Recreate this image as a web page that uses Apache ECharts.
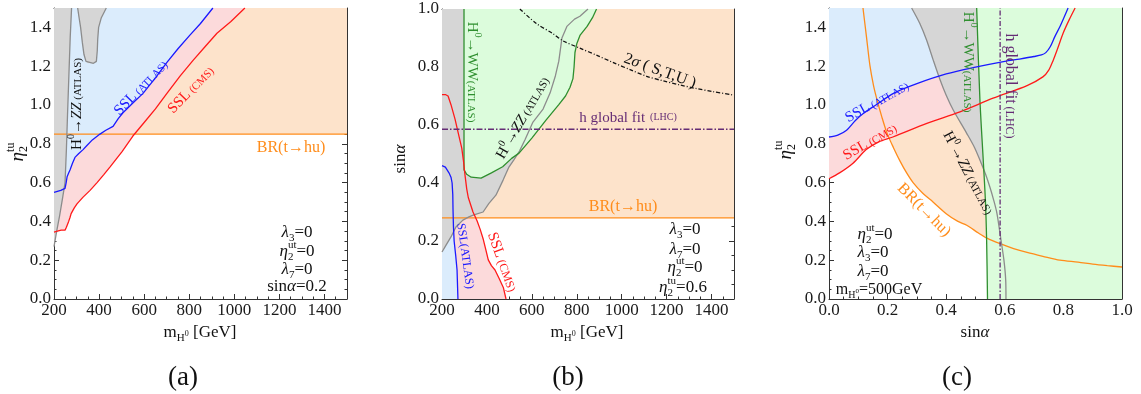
<!DOCTYPE html>
<html>
<head>
<meta charset="utf-8">
<script src="https://cdn.jsdelivr.net/npm/echarts@6/dist/echarts.min.js"></script>
<style>
  html, body { margin: 0; padding: 0; background: #fff; }
  #chart { width: 1141px; height: 394px; }
</style>
</head>
<body>
<div id="chart"></div>
<script>
// ---------- Panel (a): eta2^tu versus m_H0, sin(alpha) = 0.2 ----------
const aSslAtlas = [[200,0.55],[230,0.56],[249,0.57],[254,0.60],[258,0.63],[265,0.65],[271,0.665],[282,0.70],[293,0.73],[310,0.75],[329,0.77],[345,0.79],[370,0.82],[404,0.85],[430,0.87],[462,0.89],[485,0.93],[506,0.96],[550,1.01],[595,1.06],[650,1.14],[701,1.22],[750,1.29],[803,1.36],[850,1.42],[905,1.5]];
const aSslCms = [[200,0.345],[215,0.35],[232,0.355],[249,0.355],[255,0.37],[258,0.38],[265,0.40],[271,0.42],[276,0.44],[280,0.45],[290,0.47],[302,0.49],[329,0.525],[360,0.56],[391,0.60],[420,0.64],[448,0.68],[475,0.72],[502,0.76],[550,0.84],[600,0.91],[650,0.98],[701,1.06],[760,1.15],[817,1.23],[870,1.30],[923,1.37],[985,1.43],[1047,1.5]];
const aZZEdge = [[200,0.27],[212,0.35],[225,0.43],[238,0.52],[249,0.60],[255,0.77],[260,0.95],[266,1.15],[272,1.35],[278,1.5]];
const aZZIsland = [[305,1.5],[310,1.46],[318,1.40],[326,1.32],[333,1.26],[342,1.225],[350,1.215],[375,1.215],[388,1.225],[392,1.28],[394,1.34],[398,1.40],[410,1.45],[432,1.5]];
const aBrLimit = 0.85;

// ---------- Panel (b): sin(alpha) versus m_H0, eta2^tu = 0.6 ----------
const bSslAtlas = [[200,0.46],[215,0.455],[231,0.435],[240,0.42],[245,0.40],[248,0.36],[249,0.31],[251,0.25],[254,0.20],[261,0.15],[267,0.10],[271,0.0]];
const bSslCms = [[200,0.705],[215,0.705],[227,0.70],[240,0.67],[249,0.645],[258,0.62],[267,0.59],[276,0.56],[288,0.52],[295,0.48],[302,0.43],[310,0.38],[317,0.35],[338,0.30],[356,0.27],[370,0.24],[384,0.205],[395,0.17],[406,0.135],[420,0.115],[436,0.10],[455,0.07],[473,0.04],[485,0.0]];
const bZZEdge = [[200,0.162],[218,0.186],[240,0.214],[262,0.248],[293,0.272],[320,0.283],[342,0.29],[383,0.30],[409,0.33],[440,0.358],[472,0.41],[498,0.455],[520,0.48],[545,0.51],[570,0.55],[605,0.61],[650,0.655],[681,0.71],[705,0.77],[720,0.82],[727,0.86],[734,0.90],[756,0.94],[790,0.965],[814,0.975],[850,1.0]];
const bWWEdge = [[298,1.0],[298,0.445],[310,0.43],[330,0.42],[374,0.417],[420,0.435],[470,0.456],[510,0.485],[543,0.503],[600,0.555],[663,0.617],[720,0.67],[750,0.70],[770,0.73],[783,0.76],[788,0.80],[792,0.85],[800,0.88],[815,0.91],[846,0.94],[870,0.97],[888,1.0]];
const bStu = [[547,1.0],[620,0.95],[694,0.915],[739,0.89],[814,0.865],[890,0.84],[963,0.815],[1040,0.79],[1111,0.768],[1185,0.752],[1260,0.738],[1330,0.726],[1408,0.715],[1500,0.703]];
const bBrLimit = 0.28;
const bGlobalFit = 0.585;

// ---------- Panel (c): eta2^tu versus sin(alpha), m_H0 = 500 GeV ----------
const cSslAtlas = [[0,0.835],[0.03,0.845],[0.06,0.87],[0.09,0.92],[0.12,0.96],[0.16,1.0],[0.22,1.06],[0.3,1.11],[0.4,1.16],[0.5,1.195],[0.6,1.225],[0.65,1.237],[0.70,1.25],[0.725,1.258],[0.74,1.27],[0.755,1.30],[0.77,1.35],[0.79,1.41],[0.816,1.5]];
const cSslCms = [[0,0.62],[0.036,0.65],[0.082,0.70],[0.127,0.77],[0.17,0.81],[0.218,0.835],[0.334,0.905],[0.447,0.965],[0.56,1.035],[0.676,1.10],[0.73,1.145],[0.75,1.18],[0.765,1.23],[0.78,1.29],[0.799,1.37],[0.82,1.44],[0.84,1.5]];
const cZZEdge = [[0.282,1.5],[0.31,1.42],[0.333,1.335],[0.356,1.23],[0.379,1.13],[0.40,1.05],[0.424,0.974],[0.47,0.854],[0.497,0.78],[0.515,0.716],[0.535,0.64],[0.549,0.577],[0.562,0.51],[0.573,0.443],[0.587,0.304],[0.597,0.20],[0.603,0.10],[0.604,0.0]];
const cWWEdge = [[0.504,1.5],[0.515,1.03],[0.527,0.7],[0.534,0.5],[0.538,0.3],[0.541,0.0]];
const cBr = [[0.116,1.5],[0.128,1.35],[0.14,1.2],[0.152,1.10],[0.164,1.026],[0.18,0.94],[0.198,0.855],[0.22,0.78],[0.242,0.712],[0.265,0.65],[0.287,0.60],[0.32,0.545],[0.355,0.50],[0.40,0.44],[0.44,0.40],[0.47,0.38],[0.51,0.34],[0.539,0.314],[0.584,0.285],[0.63,0.26],[0.676,0.24],[0.73,0.22],[0.788,0.20],[0.85,0.19],[0.90,0.18],[0.95,0.172],[1.0,0.165]];
const cGlobalFit = 0.584;

// ---------- styling ----------
const FONT = '"Liberation Serif", serif';
const FRAME = '#333';
const FILL = { blue: '#dbecfc', pink: '#fcdadb', orange: '#fde3cb', gray: '#d6d6d6', green: '#dcfcdc' };
const LINE = { blue: '#1a1aff', red: '#ff1a1a', gray: '#8c8c8c', green: '#2f8f2f', orange: '#ff8c1a', purple: '#652c75', black: '#111' };
const tickText = { fontFamily: FONT, fontSize: 17, color: '#1a1a1a' };

const grids = [
  { left: 54, top: 8, width: 293, height: 291 },
  { left: 442, top: 9, width: 292, height: 290 },
  { left: 829, top: 8, width: 293, height: 291 }
];

// four axes per dimension per grid: major + minor ticks on both sides of the frame
function axesFor(g, dim, min, max, major, minor, fmt, showMax) {
  const sides = dim === 'x' ? ['bottom', 'top'] : ['left', 'right'];
  const out = [];
  sides.forEach((pos, si) => {
    [major, minor].forEach((step, mi) => {
      out.push({
        type: 'value', gridIndex: g, position: pos, min, max, interval: step,
        axisLine: { show: mi === 0, onZero: false, lineStyle: { color: FRAME, width: 1 } },
        axisTick: { show: true, inside: true, length: mi === 0 ? 5 : 2.5, lineStyle: { color: FRAME, width: 1 } },
        axisLabel: {
          show: si === 0 && mi === 0, showMaxLabel: showMax, showMinLabel: true, margin: 3,
          formatter: v => '{n|' + fmt(v) + '}',
          fontFamily: FONT, fontSize: 17, color: '#1a1a1a',
          rich: { n: tickText }
        },
        splitLine: { show: false }
      });
    });
  });
  return out;
}
const fmtInt = v => String(Math.round(v));
const fmt1 = v => v.toFixed(1);

const xAxes = [
  ...axesFor(0, 'x', 200, 1500, 200, 50, fmtInt, false),
  ...axesFor(1, 'x', 200, 1500, 200, 50, fmtInt, false),
  ...axesFor(2, 'x', 0, 1, 0.2, 0.05, fmt1, true)
];
const yAxes = [
  ...axesFor(0, 'y', 0, 1.5, 0.2, 0.05, fmt1, false),
  ...axesFor(1, 'y', 0, 1, 0.2, 0.05, fmt1, true),
  ...axesFor(2, 'y', 0, 1.5, 0.2, 0.05, fmt1, false)
];

// filled region drawn as one polygon through the axis scales
function region(g, pts, color, z) {
  return {
    type: 'custom', xAxisIndex: 4 * g, yAxisIndex: 4 * g, data: pts, clip: true, silent: true, z,
    renderItem: (params, api) => {
      if (params.dataIndex !== 0) return null;
      return { type: 'polygon', shape: { points: pts.map(p => api.coord(p)) }, style: { fill: color } };
    }
  };
}
function curve(g, pts, color, opts) {
  opts = opts || {};
  return {
    type: 'line', xAxisIndex: 4 * g, yAxisIndex: 4 * g, data: pts, showSymbol: false, symbol: 'none',
    smooth: opts.smooth || false, clip: true, silent: true, z: 10,
    lineStyle: { color, width: opts.width || 1.3, type: opts.dash || 'solid' }
  };
}
const rev = a => a.slice().reverse();
const hline = (x0, x1, y) => [[x0, y], [x1, y]];
const vline = (x, y0, y1) => [[x, y0], [x, y1]];

const series = [
  // (a)
  region(0, [[200, aBrLimit], [1500, aBrLimit], [1500, 1.5], [200, 1.5]], FILL.orange, 1),
  region(0, [...aSslAtlas, [200, 1.5]], FILL.blue, 2),
  region(0, [...aSslCms, ...rev(aSslAtlas)], FILL.pink, 3),
  region(0, [...aZZEdge, [200, 1.5]], FILL.gray, 4),
  region(0, aZZIsland, FILL.gray, 4),
  curve(0, hline(200, 1500, aBrLimit), LINE.orange),
  curve(0, aZZEdge, LINE.gray),
  curve(0, aZZIsland, LINE.gray),
  curve(0, aSslAtlas, LINE.blue),
  curve(0, aSslCms, LINE.red),
  // (b)
  region(1, [[200, bBrLimit], [1500, bBrLimit], [1500, 1], [200, 1]], FILL.orange, 1),
  region(1, [...bSslAtlas, [200, 0]], FILL.blue, 2),
  region(1, [...bSslCms, ...rev(bSslAtlas)], FILL.pink, 3),
  region(1, [...bZZEdge, [200, 1]], FILL.gray, 4),
  region(1, bWWEdge, FILL.green, 5),
  curve(1, hline(200, 1500, bBrLimit), LINE.orange),
  curve(1, bZZEdge, LINE.gray),
  curve(1, bWWEdge, LINE.green),
  curve(1, bSslAtlas, LINE.blue),
  curve(1, bSslCms, LINE.red),
  curve(1, bStu, LINE.black, { smooth: 0.3, width: 1.3, dash: [4, 2, 1, 2] }),
  curve(1, hline(200, 1500, bGlobalFit), LINE.purple, { width: 1.5, dash: [6, 2, 1.5, 2] }),
  // (c)
  region(2, [...cBr, [1, 1.5]], FILL.orange, 1),
  region(2, [...cSslAtlas, [0, 1.5]], FILL.blue, 2),
  region(2, [...cSslCms, ...rev(cSslAtlas)], FILL.pink, 3),
  region(2, [...cZZEdge, [1, 0], [1, 1.5]], FILL.gray, 4),
  region(2, [...cWWEdge, [1, 0], [1, 1.5]], FILL.green, 5),
  curve(2, cBr, LINE.orange, { smooth: 0.3 }),
  curve(2, cZZEdge, LINE.gray, { smooth: 0.3 }),
  curve(2, cWWEdge, LINE.green, { smooth: 0.3 }),
  curve(2, cSslAtlas, LINE.blue, { smooth: 0.3 }),
  curve(2, cSslCms, LINE.red, { smooth: 0.3 }),
  curve(2, vline(cGlobalFit, 0, 1.5), LINE.purple, { width: 1.3, dash: [5, 2, 1.5, 2] })
];

// ---------- composed text labels (sub/superscripts, rotation) ----------
const measure = document.createElement('canvas').getContext('2d');
function fontOf(q) { return (q.it ? 'italic ' : '') + q.s + 'px ' + FONT; }
function widthOf(q) { measure.font = fontOf(q); return measure.measureText(q.t).width; }
const P = (t, s, dy, it) => ({ t, s, dy: dy || 0, it: !!it });

function label(cx, cy, rotDeg, color, parts, align) {
  let cursor = 0;
  const kids = [];
  parts.forEach(p => {
    const stack = Array.isArray(p) ? p : [p];
    let adv = 0;
    stack.forEach(q => {
      kids.push({
        type: 'text', x: cursor, y: q.dy, z: 100, silent: true,
        style: { text: q.t, font: fontOf(q), fill: color, align: 'left', verticalAlign: 'middle', textAlign: 'left', textVerticalAlign: 'middle' }
      });
      adv = Math.max(adv, widthOf(q));
    });
    cursor += adv;
  });
  const shift = align === 'left' ? 0 : align === 'right' ? -cursor : -cursor / 2;
  kids.forEach(k => { k.x += shift; });
  return { type: 'group', x: cx, y: cy, rotation: rotDeg * Math.PI / 180, z: 100, silent: true, children: kids };
}
const eta = (s, sub, sup) => [P('η', s, 0, true), [P(sub, Math.round(s * 0.62), s * 0.32), P(sup, Math.round(s * 0.62), -s * 0.4)]];
const lam = (s, sub) => [P('λ', s, 0, true), P(sub, Math.round(s * 0.62), s * 0.32)];
const zz = (s, c, color, rot, x, y) => label(x, y, rot, color, [P('H', s), P('0', Math.round(s * 0.65), -s * 0.35), P('→', s), P('ZZ', s, 0, true), P(' (ATLAS)', c, 1.2)]);
const ww = (s, c, color, rot, x, y) => label(x, y, rot, color, [P('H', s), P('0', Math.round(s * 0.65), -s * 0.35), P('→WW', s), P('(ATLAS)', c, 1.2)]);
const massTitle = (x, y) => label(x, y, 0, '#111', [P('m', 17), P('H', 11, 5), P('0', 8, 1), P(' [GeV]', 17)]);
const PS = 17;

const texts = [
  // (a)
  zz(15, 11, '#111', 90, 77, 104),
  label(141, 88, 46, LINE.blue, [P('SSL', 15), P(' (ATLAS)', 11, 1.2)]),
  label(191, 90, 46, LINE.red, [P('SSL', 15), P(' (CMS)', 11, 1.2)]),
  label(291, 148, 0, LINE.orange, [P('BR(t→hu)', 16)]),
  label(297, 233, 0, '#111', [...lam(PS, '3'), P('=0', PS)]),
  label(297, 252, 0, '#111', [...eta(PS, '2', 'ut'), P('=0', PS)]),
  label(297, 270, 0, '#111', [...lam(PS, '7'), P('=0', PS)]),
  label(297, 287, 0, '#111', [P('sin', PS), P('α', PS, 0, true), P('=0.2', PS)]),
  massTitle(200, 333),
  label(18, 152, 90, '#111', eta(19, '2', 'tu')),
  label(183, 378, 0, '#111', [P('(a)', 27)]),
  // (b)
  ww(15, 11, LINE.green, -90, 472, 72),
  label(660, 71, -20, '#111', [P('2', 16), P('σ', 16, 0, true), P(' ( S,T,U )', 16)]),
  zz(15, 11, '#111', 60, 523, 118),
  label(628, 118, 0, LINE.purple, [P('h global fit', 15), P('  (LHC)', 10, -1)]),
  label(623, 207, 0, LINE.orange, [P('BR(t→hu)', 16)]),
  label(465, 256, -82, LINE.blue, [P('SSL(ATLAS)', 12)]),
  label(502, 262, -70, LINE.red, [P('SSL', 15), P(' (CMS)', 12, 1)]),
  label(685, 230, 0, '#111', [...lam(PS, '3'), P('=0', PS)]),
  label(685, 250, 0, '#111', [...lam(PS, '7'), P('=0', PS)]),
  label(685, 268, 0, '#111', [...eta(PS, '2', 'ut'), P('=0', PS)]),
  label(683, 288, 0, '#111', [...eta(PS, '2', 'tu'), P('=0.6', PS)]),
  massTitle(587, 333),
  label(401, 159, 90, '#111', [P('sin', 17), P('α', 17, 0, true)]),
  label(568, 378, 0, '#111', [P('(b)', 27)]),
  // (c)
  ww(15, 11, LINE.green, -90, 968, 62),
  label(1010, 86, -90, LINE.purple, [P('h global fit', 16), P(' (LHC)', 12, 1)]),
  zz(15, 11, '#111', -62, 968, 173),
  label(877, 102, 29, LINE.blue, [P('SSL', 15), P(' (ATLAS)', 11, 1.2)]),
  label(870, 142, 30, LINE.red, [P('SSL', 15), P(' (CMS)', 11, 1.2)]),
  label(924, 210, -45, LINE.orange, [P('BR(t→hu)', 16)]),
  label(875, 235, 0, '#111', [...eta(PS, '2', 'ut'), P('=0', PS)]),
  label(873, 253, 0, '#111', [...lam(PS, '3'), P('=0', PS)]),
  label(873, 272, 0, '#111', [...lam(PS, '7'), P('=0', PS)]),
  label(879, 290, 0, '#111', [P('m', 16), P('H', 10, 5), P('0', 7, 1), P('=500GeV', 16)]),
  label(975, 333, 0, '#111', [P('sin', 17), P('α', 17, 0, true)]),
  label(786, 150, 90, '#111', eta(19, '2', 'tu')),
  label(957, 378, 0, '#111', [P('(c)', 27)])
];

const chart = echarts.init(document.getElementById('chart'));
chart.setOption({
  animation: false,
  backgroundColor: '#fff',
  textStyle: { fontFamily: FONT },
  grid: grids,
  xAxis: xAxes,
  yAxis: yAxes,
  series,
  graphic: { elements: texts }
});
</script>
</body>
</html>
